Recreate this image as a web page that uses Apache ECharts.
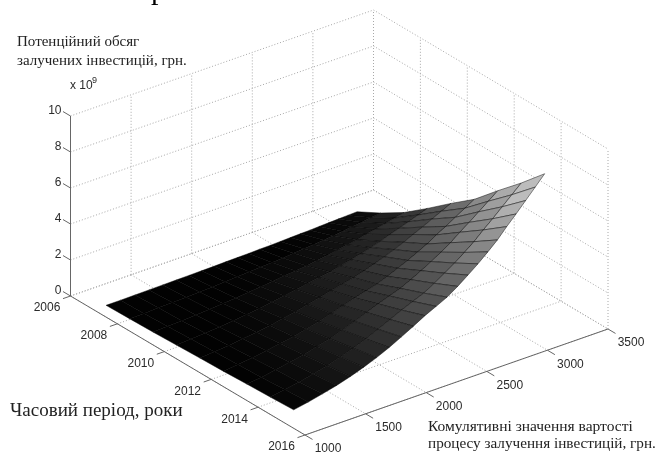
<!DOCTYPE html>
<html>
<head>
<meta charset="utf-8">
<title>Потенційний обсяг залучених інвестицій</title>
<style>
  html, body { margin: 0; padding: 0; background: #fff; }
  #chart { width: 657px; height: 454px; }
</style>
</head>
<body>
<div id="chart"></div>
<script src="https://cdn.jsdelivr.net/npm/echarts@6/dist/echarts.min.js"></script>
<script>
// axis ticks
const yearTicks = [2006, 2008, 2010, 2012, 2014, 2016]
const costTicks = [1000, 1500, 2000, 2500, 3000, 3500]
const valueTicks = [0, 2, 4, 6, 8, 10]

// surface grid
const surfaceYears = [2007, 2008, 2009, 2010, 2011, 2012, 2013, 2014, 2015]
const surfaceCosts = [1100, 1220, 1338, 1454, 1568, 1678, 1784, 1888, 1989, 2088, 2183, 2276, 2366, 2453, 2538, 2621, 2702, 2781, 2858, 2935, 3014, 3093, 3171]
// x 10^9, one row per year
const potential2007 = [.02, .02, .03, .04, .05, .06, .07, .08, .09, .11, .12, .13, .15, .16, .18, .20, .22, .23, .26, .28, .30, .32, .34]
const potential2008 = [.05, .06, .09, .11, .14, .17, .20, .24, .28, .33, .37, .40, .44, .49, .54, .59, .65, .70, .77, .83, .90, .97, 1.04]
const potential2009 = [.08, .12, .15, .19, .24, .30, .36, .43, .50, .58, .65, .72, .78, .86, .96, 1.05, 1.15, 1.25, 1.37, 1.48, 1.60, 1.72, 1.84]
const potential2010 = [.13, .18, .24, .30, .38, .46, .55, .66, .77, .89, 1.01, 1.11, 1.21, 1.34, 1.48, 1.62, 1.77, 1.93, 2.12, 2.29, 2.47, 2.66, 2.84]
const potential2011 = [.18, .24, .32, .41, .51, .63, .76, .90, 1.06, 1.22, 1.38, 1.52, 1.66, 1.83, 2.02, 2.22, 2.43, 2.65, 2.90, 3.13, 3.39, 3.64, 3.89]
const potential2012 = [.22, .31, .41, .52, .65, .79, .95, 1.13, 1.33, 1.54, 1.74, 1.91, 2.08, 2.30, 2.55, 2.79, 3.06, 3.33, 3.65, 3.94, 4.26, 4.58, 4.89]
const potential2013 = [.28, .38, .51, .65, .81, 1.00, 1.19, 1.42, 1.67, 1.93, 2.18, 2.40, 2.61, 2.89, 3.19, 3.50, 3.83, 4.17, 4.57, 4.94, 5.34, 5.74, 6.14]
const potential2014 = [.33, .46, .61, .77, .97, 1.19, 1.43, 1.70, 2.00, 2.31, 2.61, 2.87, 3.12, 3.46, 3.82, 4.19, 4.59, 5.00, 5.47, 5.91, 6.39, 6.87, 7.34]
const potential2015 = [.39, .54, .72, .91, 1.14, 1.40, 1.68, 2.00, 2.35, 2.71, 3.07, 3.37, 3.67, 4.06, 4.49, 4.92, 5.39, 5.87, 6.43, 6.95, 7.51, 8.07, 8.63]
const potential = [potential2007, potential2008, potential2009, potential2010, potential2011, potential2012, potential2013, potential2014, potential2015]

// fixed view of the 3d box: where one unit of each axis lands on the picture
const project = (year, cost, value) => [
  70.5 + (year - 2006) * 23.45 + (cost - 1000) * 0.1212,
  296 + (year - 2006) * 13.9 - (cost - 1000) * 0.0424 - value * 18
]

const sans = '12px "Liberation Sans", Arial, sans-serif'
const serif = '"Liberation Serif", "Times New Roman", serif'
const yearMin = yearTicks[0], yearMax = yearTicks[yearTicks.length - 1]
const costMin = costTicks[0], costMax = costTicks[costTicks.length - 1]
const valueMin = valueTicks[0], valueMax = valueTicks[valueTicks.length - 1]

// a segment in axis units
const seg3 = (a, b) => [project(a[0], a[1], a[2]), project(b[0], b[1], b[2])]

const gridSegments = []
valueTicks.forEach(v => {
  gridSegments.push(seg3([yearMin, costMin, v], [yearMin, costMax, v]))
  gridSegments.push(seg3([yearMin, costMax, v], [yearMax, costMax, v]))
})
costTicks.forEach(c => {
  if (c > costMin) gridSegments.push(seg3([yearMin, c, valueMin], [yearMin, c, valueMax]))
  gridSegments.push(seg3([yearMin, c, valueMin], [yearMax, c, valueMin]))
})
yearTicks.forEach(y => {
  if (y > yearMin) gridSegments.push(seg3([y, costMax, valueMin], [y, costMax, valueMax]))
  gridSegments.push(seg3([y, costMin, valueMin], [y, costMax, valueMin]))
})

const axisSegments = [
  seg3([yearMin, costMin, valueMin], [yearMin, costMin, valueMax]),
  seg3([yearMin, costMin, valueMin], [yearMax, costMin, valueMin]),
  seg3([yearMax, costMin, valueMin], [yearMax, costMax, valueMin])
]
valueTicks.forEach(v => axisSegments.push(seg3([yearMin, costMin, v], [yearMin - 0.32, costMin, v])))
yearTicks.forEach(y => axisSegments.push(seg3([y, costMin, valueMin], [y, costMin - 62, valueMin])))
costTicks.forEach(c => axisSegments.push(seg3([yearMax, c, valueMin], [yearMax + 0.32, c, valueMin])))

const tickLabels = []
valueTicks.forEach(v => {
  const p = project(yearMin, costMin, v)
  tickLabels.push({ text: String(v), x: p[0] - 9, y: p[1] - 5, align: 'right' })
})
yearTicks.forEach(y => {
  const p = project(y, costMin, valueMin)
  tickLabels.push({ text: String(y), x: p[0] - 23.5, y: p[1] + 12, align: 'center' })
})
costTicks.forEach(c => {
  const p = project(yearMax, c, valueMin)
  tickLabels.push({ text: String(c), x: p[0] + 23, y: p[1] + 14, align: 'center' })
})

// back cells first so the near ones paint over them
const cells = []
for (let i = 0; i < surfaceYears.length - 1; i++) {
  for (let j = surfaceCosts.length - 2; j >= 0; j--) cells.push([i, j])
}

const cellGray = (i, j) => {
  const mean = (potential[i][j] + potential[i + 1][j] + potential[i][j + 1] + potential[i + 1][j + 1]) / 4
  const g = Math.round(Math.max(2, Math.min(188, 27 * mean - 6)))
  return `rgb(${g},${g},${g})`
}

const segmentSeries = (name, segments, stroke, dash, z) => ({
  type: 'custom',
  name,
  coordinateSystem: 'cartesian2d',
  silent: true,
  animation: false,
  z,
  data: segments.map((s, i) => [i]),
  renderItem(params, api) {
    const s = segments[api.value(0)]
    const a = api.coord(s[0]), b = api.coord(s[1])
    return {
      type: 'line',
      shape: { x1: a[0], y1: a[1], x2: b[0], y2: b[1] },
      style: { stroke, lineWidth: 1, lineDash: dash }
    }
  }
})

const myChart = echarts.init(document.getElementById('chart'))
myChart.setOption({
  animation: false,
  backgroundColor: '#fff',
  grid: { left: 0, right: 0, top: 0, bottom: 0 },
  xAxis: { type: 'value', min: 0, max: 657, show: false },
  yAxis: { type: 'value', min: 0, max: 454, inverse: true, show: false },
  series: [
    segmentSeries('grid', gridSegments, '#a8a8a8', [1, 2], 1),
    {
      type: 'custom',
      name: 'surface',
      coordinateSystem: 'cartesian2d',
      silent: true,
      animation: false,
      z: 2,
      data: cells,
      renderItem(params, api) {
        const i = api.value(0), j = api.value(1)
        const corners = [[i, j], [i + 1, j], [i + 1, j + 1], [i, j + 1]]
        const points = corners.map(c => api.coord(project(surfaceYears[c[0]], surfaceCosts[c[1]], potential[c[0]][c[1]])))
        return {
          type: 'polygon',
          shape: { points },
          style: { fill: cellGray(i, j), stroke: 'rgba(0,0,0,0.75)', lineWidth: 0.6 }
        }
      }
    },
    segmentSeries('axes', axisSegments, '#666', null, 3),
    {
      type: 'custom',
      name: 'ticks',
      coordinateSystem: 'cartesian2d',
      silent: true,
      animation: false,
      z: 4,
      data: tickLabels.map((t, i) => [i]),
      renderItem(params, api) {
        const t = tickLabels[api.value(0)]
        const p = api.coord([t.x, t.y])
        return {
          type: 'text',
          style: { text: t.text, x: p[0], y: p[1], font: sans, fill: '#2b2b2b', align: t.align, verticalAlign: 'middle' }
        }
      }
    }
  ],
  graphic: [
    { type: 'text', left: 151, top: -24, style: { text: 'р', font: '30px ' + serif, fill: '#000' } },
    { type: 'text', left: 17, top: 35, style: { text: 'Потенційний обсяг', font: '15px ' + serif, fill: '#222' } },
    { type: 'text', left: 17, top: 54, style: { text: 'залучених інвестицій, грн.', font: '15px ' + serif, fill: '#222' } },
    { type: 'text', left: 70, top: 80, style: { text: 'x 10', font: sans, fill: '#2b2b2b' } },
    { type: 'text', left: 92, top: 76, style: { text: '9', font: '9px "Liberation Sans", Arial, sans-serif', fill: '#2b2b2b' } },
    { type: 'text', left: 10, top: 402, style: { text: 'Часовий період, роки', font: '19px ' + serif, fill: '#222' } },
    { type: 'text', left: 428, top: 419, style: { text: 'Комулятивні значення вартості', font: '15.5px ' + serif, fill: '#222' } },
    { type: 'text', left: 428, top: 437, style: { text: 'процесу залучення інвестицій, грн.', font: '15.2px ' + serif, fill: '#222' } }
  ]
})
</script>
</body>
</html>
